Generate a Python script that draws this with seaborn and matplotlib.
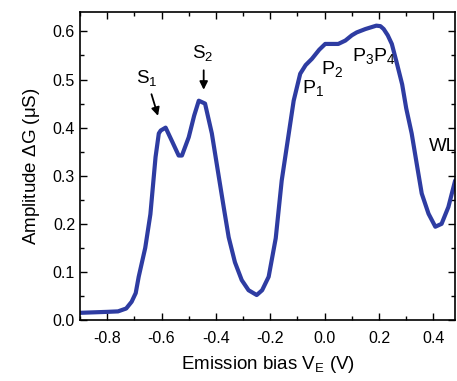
import matplotlib
matplotlib.use("Agg")
import matplotlib.pyplot as plt
from matplotlib.ticker import MultipleLocator
import seaborn as sns
import pandas as pd

# emission bias (V) and amplitude dG (uS)
bias = [-0.90, -0.85, -0.80, -0.76, -0.73, -0.71, -0.695, -0.684, -0.66, -0.641,
        -0.622, -0.61, -0.603, -0.585, -0.56, -0.537, -0.525, -0.50, -0.48, -0.463,
        -0.44, -0.415, -0.39, -0.37, -0.353, -0.33, -0.305, -0.28, -0.25, -0.23,
        -0.206, -0.18, -0.158, -0.132, -0.114, -0.09, -0.07, -0.047, -0.02, 0.002,
        0.03, 0.05, 0.076, 0.10, 0.118, 0.15, 0.19, 0.205, 0.217, 0.232, 0.247,
        0.265, 0.285, 0.30, 0.32, 0.34, 0.357, 0.382, 0.407, 0.43, 0.455, 0.48]
amplitude = [0.015, 0.016, 0.017, 0.018, 0.024, 0.038, 0.056, 0.09, 0.15, 0.22,
             0.339, 0.388, 0.394, 0.40, 0.37, 0.342, 0.342, 0.38, 0.425, 0.456,
             0.45, 0.388, 0.30, 0.23, 0.172, 0.12, 0.083, 0.062, 0.052, 0.062,
             0.09, 0.17, 0.29, 0.388, 0.456, 0.512, 0.53, 0.543, 0.562, 0.574,
             0.574, 0.574, 0.581, 0.592, 0.598, 0.605, 0.612, 0.611, 0.605, 0.592, 0.574,
             0.535, 0.49, 0.44, 0.388, 0.32, 0.263, 0.221, 0.194, 0.2, 0.235, 0.29]

df = pd.DataFrame({"bias": bias, "amp": amplitude})

sns.set_style("ticks")
plt.rcParams["font.family"] = ["Liberation Sans", "DejaVu Sans"]
plt.rcParams["mathtext.fontset"] = "custom"
plt.rcParams["mathtext.rm"] = "Liberation Sans"
plt.rcParams["mathtext.it"] = "Liberation Sans"
plt.rcParams["mathtext.default"] = "regular"
plt.rcParams["text.color"] = "black"
plt.rcParams["axes.labelcolor"] = "black"
plt.rcParams["xtick.color"] = "black"
plt.rcParams["ytick.color"] = "black"

fig = plt.figure(figsize=(4.57, 3.81), dpi=100)
ax = fig.add_axes([0.175, 0.160, 0.821, 0.808])

sns.lineplot(data=df, x="bias", y="amp", ax=ax, color="#2E3CA2", linewidth=3.0)

ax.set_xlim(-0.9, 0.48)
ax.set_ylim(0.0, 0.64)
ax.xaxis.set_major_locator(MultipleLocator(0.2))
ax.xaxis.set_minor_locator(MultipleLocator(0.1))
ax.yaxis.set_major_locator(MultipleLocator(0.1))
ax.yaxis.set_minor_locator(MultipleLocator(0.05))
ax.set_xticks([-0.8, -0.6, -0.4, -0.2, 0.0, 0.2, 0.4])
ax.set_xticklabels(["-0.8", "-0.6", "-0.4", "-0.2", "0.0", "0.2", "0.4"])
ax.tick_params(which="both", direction="in", top=True, right=True, labelsize=11.5,
               color="black", labelcolor="black")
ax.tick_params(which="major", length=5, width=1)
ax.tick_params(which="minor", length=3, width=1)
ax.tick_params(axis="x", pad=8)
for s in ax.spines.values():
    s.set_linewidth(1.2)
    s.set_color("black")

ax.set_xlabel("Emission bias V$_E$ (V)", fontsize=13.5, labelpad=6)
ax.set_ylabel("Amplitude $\\Delta$G ($\\mu$S)", fontsize=13.5, labelpad=8)

ax.annotate("", xy=(-0.61, 0.419), xytext=(-0.64, 0.475),
            arrowprops=dict(arrowstyle="-|>", color="black", lw=1.3, mutation_scale=12))
ax.text(-0.654, 0.504, "S$_1$", fontsize=13.5, ha="center", va="center")
ax.annotate("", xy=(-0.445, 0.473), xytext=(-0.445, 0.525),
            arrowprops=dict(arrowstyle="-|>", color="black", lw=1.3, mutation_scale=12))
ax.text(-0.449, 0.556, "S$_2$", fontsize=13.5, ha="center", va="center")
ax.text(-0.044, 0.482, "P$_1$", fontsize=14, ha="center", va="center")
ax.text(0.026, 0.522, "P$_2$", fontsize=14, ha="center", va="center")
ax.text(0.18, 0.548, "P$_3$P$_4$", fontsize=14, ha="center", va="center")
ax.text(0.385, 0.36, "WL", fontsize=13.5, ha="left", va="center", clip_on=True)

fig.savefig("out.png", dpi=100)
